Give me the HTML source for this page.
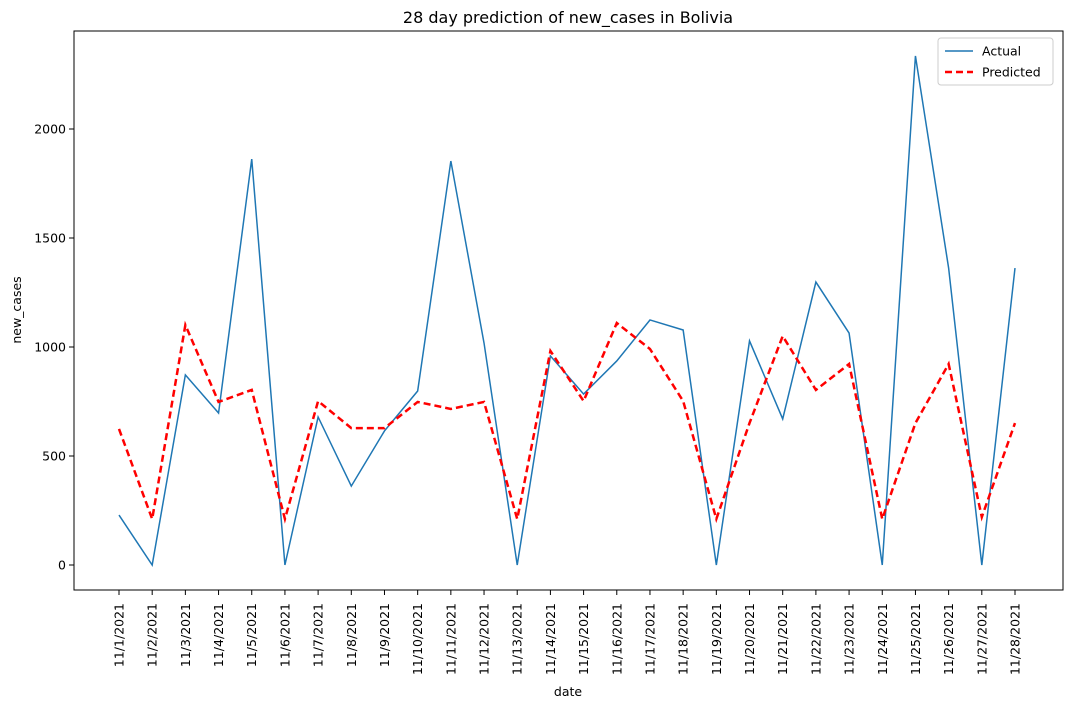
<!DOCTYPE html>
<html><head><meta charset="utf-8"><style>
body{margin:0;background:#fff}
svg{font-family:"DejaVu Sans","Liberation Sans",sans-serif}
</style></head><body>
<svg id="chart" width="1070" height="709" viewBox="0 0 1070 709">
<rect width="1070" height="709" fill="#fff"/>
<text x="568" y="23" font-size="16" text-anchor="middle">28 day prediction of new_cases in Bolivia</text>
<g id="grid"></g>
<rect x="74" y="31" width="989" height="559" fill="none" stroke="#000" stroke-width="1"/>
<text x="568" y="696" font-size="12.5" text-anchor="middle">date</text>
<text transform="translate(21,310) rotate(-90)" font-size="12.5" text-anchor="middle">new_cases</text>
<g id="legend">
<rect x="938" y="38" width="115" height="47" fill="#fff" stroke="#ccc" rx="3"/>
<line x1="945" y1="51" x2="973" y2="51" stroke="#1f77b4" stroke-width="1.5"/>
<text x="982" y="55.5" font-size="12.5">Actual</text>
<line x1="945" y1="72" x2="973" y2="72" stroke="red" stroke-width="2.5" stroke-dasharray="7,4"/>
<text x="982" y="76.5" font-size="12.5">Predicted</text>
</g>
</svg>
<script>
const dates=[];for(let i=1;i<=28;i++)dates.push('11/'+i+'/2021');
const actual=[229,0,872,697,1862,0,679,362,615,798,1853,1018,0,959,784,936,1124,1078,0,1028,670,1298,1064,0,2335,1362,0,1362];
const predicted=[624,211,1101,748,803,211,752,628,628,748,716,748,211,982,752,1110,991,752,211,651,1050,803,922,211,651,922,220,651];
const yTicks=[0,500,1000,1500,2000];
const NS='http://www.w3.org/2000/svg';
const svg=document.getElementById('chart');
const xS=i=>119+i*(896/27);
const yS=v=>565-v*0.218;
function mk(t,a){const e=document.createElementNS(NS,t);for(const k in a)e.setAttribute(k,a[k]);return e;}
const g=document.getElementById('grid');
yTicks.forEach(v=>{
 const l=mk('line',{x1:69,x2:74,y1:yS(v),y2:yS(v),stroke:'#000'});
 
 
 g.appendChild(l);
 const t=mk('text',{x:66,y:yS(v)+4.5,'font-size':12.5,'text-anchor':'end'});
 
 
 t.textContent=v;g.appendChild(t);
});
dates.forEach((d,i)=>{
 const x=xS(i);
 const l=mk('line',{x1:x,x2:x,y1:590,y2:595,stroke:'#000'});
 
 
 g.appendChild(l);
 const t=mk('text',{transform:`translate(${x+4.5},603) rotate(-90)`,'font-size':12.5,'text-anchor':'end'});
 
 
 t.textContent=d;g.appendChild(t);
});
const pa=mk('polyline',{points:actual.map((v,i)=>xS(i)+','+yS(v)).join(' '),fill:'none',stroke:'#1f77b4','stroke-width':1.5});


svg.insertBefore(pa,document.getElementById('legend'));
const pp=mk('polyline',{points:predicted.map((v,i)=>xS(i)+','+yS(v)).join(' '),fill:'none',stroke:'red','stroke-width':2.5,'stroke-dasharray':'7,4'});


svg.insertBefore(pp,document.getElementById('legend'));
</script>
</body></html>
